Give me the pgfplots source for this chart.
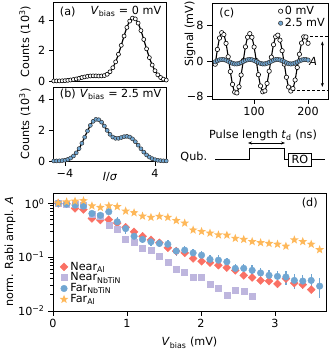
\documentclass[border=0pt]{standalone}
\usepackage{fontspec}
\setmainfont{DejaVu Sans}
\usepackage{pgfplots}
\usepackage{pgfplotstable}
\pgfplotsset{compat=1.18}
\usetikzlibrary{arrows.meta}

\definecolor{cblue}{RGB}{112,166,210}
\definecolor{cred}{RGB}{250,112,100}
\definecolor{cpurple}{RGB}{190,182,222}
\definecolor{corange}{RGB}{254,184,90}

\pgfdeclareplotmark{fstar}{%
 \pgfpathmoveto{\pgfpointpolar{90}{\pgfplotmarksize}}%
 \pgfpathlineto{\pgfpointpolar{126}{0.42*\pgfplotmarksize}}%
 \pgfpathlineto{\pgfpointpolar{162}{\pgfplotmarksize}}%
 \pgfpathlineto{\pgfpointpolar{198}{0.42*\pgfplotmarksize}}%
 \pgfpathlineto{\pgfpointpolar{234}{\pgfplotmarksize}}%
 \pgfpathlineto{\pgfpointpolar{270}{0.42*\pgfplotmarksize}}%
 \pgfpathlineto{\pgfpointpolar{306}{\pgfplotmarksize}}%
 \pgfpathlineto{\pgfpointpolar{342}{0.42*\pgfplotmarksize}}%
 \pgfpathlineto{\pgfpointpolar{18}{\pgfplotmarksize}}%
 \pgfpathlineto{\pgfpointpolar{54}{0.42*\pgfplotmarksize}}%
 \pgfpathclose\pgfusepathqfill}

\pgfplotsset{
  base/.style={scale only axis, anchor=south west, tick align=outside,
    xtick pos=bottom, ytick pos=left,
    major tick length=4.6pt, minor tick length=2.6pt,
    tick style={line width=0.8pt, black},
    axis line style={line width=0.8pt},
    /pgf/number format/assume math mode=true},
}

\pgfplotstableread{
x y
-5 0.002
-4.75 0.004
-4.5 0.007
-4.25 0.014
-4 0.025
-3.75 0.042
-3.5 0.066
-3.25 0.098
-3 0.136
-2.75 0.18
-2.5 0.23
-2.25 0.27
-2 0.31
-1.75 0.33
-1.5 0.34
-1.25 0.336
-1 0.327
-0.75 0.332
-0.5 0.359
-0.25 0.443
0 0.607
0.25 0.875
0.5 1.26
0.75 1.76
1 2.345
1.25 2.96
1.5 3.525
1.75 3.94
2 4.14
2.25 4.09
2.5 3.81
2.75 3.32
3 2.735
3.25 2.117
3.5 1.539
3.75 1.051
4 0.675
4.25 0.407
4.5 0.23
4.75 0.122
5 0.061
}\tabA

\pgfplotstableread{
x y
-5 0.002
-4.75 0.005
-4.5 0.012
-4.25 0.026
-4 0.054
-3.75 0.104
-3.5 0.192
-3.25 0.330
-3 0.534
-2.75 0.812
-2.5 1.160
-2.25 1.557
-2 1.963
-1.75 2.327
-1.5 2.594
-1.25 2.724
-1 2.700
-0.75 2.538
-0.5 2.284
-0.25 2.000
0 1.745
0.25 1.567
0.5 1.482
0.75 1.483
1 1.535
1.25 1.592
1.5 1.612
1.75 1.568
2 1.447
2.25 1.262
2.5 1.037
2.75 0.80
3 0.582
3.25 0.397
3.5 0.255
3.75 0.154
4 0.087
4.25 0.046
4.5 0.023
4.75 0.011
5 0.005
}\tabB

\pgfplotstableread{
t w b
28 -0.71 -0.17
32 2.60 0.07
36 5.16 0.26
40 6.35 0.35
44 5.92 0.32
48 3.96 0.18
52 0.96 -0.04
56 -2.37 -0.29
60 -5.23 -0.50
64 -6.96 -0.63
68 -7.14 -0.64
72 -5.76 -0.54
76 -3.13 -0.35
80 0.11 -0.10
84 3.19 0.13
88 5.34 0.29
92 6.13 0.35
96 5.32 0.29
100 3.15 0.13
104 0.11 -0.10
108 -3.05 -0.34
112 -5.58 -0.54
116 -6.88 -0.64
120 -6.68 -0.63
124 -5.01 -0.50
128 -2.27 -0.29
132 0.87 -0.04
136 3.66 0.17
140 5.45 0.32
144 5.80 0.35
148 4.67 0.26
152 2.31 0.07
156 -0.69 -0.17
160 -3.64 -0.40
164 -5.82 -0.58
168 -6.72 -0.65
172 -6.15 -0.60
176 -4.24 -0.45
180 -1.44 -0.23
184 1.53 0.02
188 4.03 0.22
192 5.42 0.33
196 5.40 0.33
200 3.98 0.22
}\tabC

\begin{document}
\fontsize{11.2}{13.4}\selectfont
\begin{tikzpicture}
\path[use as bounding box] (0pt,0pt) rectangle (330pt,350pt);

% ---------------- (a)
\begin{axis}[base, at={(53.75pt,269pt)}, width=112.5pt, height=79pt,
  xmin=-5, xmax=5, ymin=0, ymax=5.2, xtick=\empty, ytick={0,2,4},
  ylabel={Counts (10\textsuperscript{3})},
  ylabel style={at={(axis description cs:-0.256,0.5)}, anchor=center}]
\addplot[black, line width=1.2pt, smooth] table[x=x,y=y] {\tabA};
\addplot[only marks, mark=*, mark size=2pt, mark options={fill=white, draw=black, line width=0.6pt}] table[x=x,y=y] {\tabA};
\node[anchor=west] at (axis description cs:0.02,0.877) {(a)};
\node[anchor=east] at (axis description cs:0.99,0.877) {\textit{V}\textsubscript{bias} = 0 mV};
\end{axis}

% ---------------- (b)
\begin{axis}[base, at={(53.75pt,189pt)}, width=112.5pt, height=74pt,
  xmin=-5, xmax=5, ymin=0, ymax=4.84, xtick={-4,4}, xticklabels={−4,4}, ytick={0,2,4},
  xlabel={\textit{I}/\textit{σ}},
  xlabel style={at={(axis description cs:0.5,-0.22)}, anchor=center},
  ylabel={Counts (10\textsuperscript{3})},
  ylabel style={at={(axis description cs:-0.256,0.5)}, anchor=center}]
\addplot[black, line width=1.2pt, smooth] table[x=x,y=y] {\tabB};
\addplot[only marks, mark=*, mark size=2pt, mark options={fill=cblue, draw=black!80, line width=0.5pt}] table[x=x,y=y] {\tabB};
\node[anchor=west] at (axis description cs:0.02,0.90) {(b)};
\node[anchor=east] at (axis description cs:0.99,0.90) {\textit{V}\textsubscript{bias} = 2.5 mV};
\end{axis}

% ---------------- (c)
\begin{axis}[base, at={(212pt,251pt)}, width=116pt, height=96pt,
  xmin=22, xmax=237, ymin=-8.5, ymax=13, xtick={100,200}, ytick={-8,0,8}, yticklabels={−8,0,8},
  xlabel={Pulse length \textit{t}\textsubscript{d} (ns)},
  xlabel style={at={(axis description cs:0.44,-0.375)}, anchor=center},
  ylabel={Signal (mV)},
  ylabel style={at={(axis description cs:-0.19,0.68)}, anchor=center},
  legend style={at={(1.0,1.0)}, anchor=north east, draw=none, fill=none, inner sep=1pt, row sep=-2pt},
  legend cell align=left]
\addplot[black, line width=1.1pt, smooth, forget plot] table[x=t,y=w] {\tabC};
\addplot[black, line width=1.1pt, smooth, forget plot] table[x=t,y=b] {\tabC};
\addplot[only marks, mark=*, mark size=2.2pt, mark options={fill=white, draw=black, line width=0.6pt}] table[x=t,y=w] {\tabC};
\addlegendentry{0 mV}
\addplot[only marks, mark=*, mark size=2.2pt, mark options={fill=cblue, draw=black!80, line width=0.5pt}] table[x=t,y=b] {\tabC};
\addlegendentry{2.5 mV}
\draw[densely dashed, line width=0.8pt] (axis cs:194,5.6) -- (axis cs:237,5.6);
\draw[densely dashed, line width=0.8pt] (axis cs:170,-6.66) -- (axis cs:237,-6.66);
\draw[line width=0.8pt, {Stealth[length=4pt]}-{Stealth[length=4pt]}] (axis cs:226.5,4.4) -- (axis cs:226.5,-5.8);
\node[anchor=west, inner sep=0.5pt] at (axis cs:201,0) {\textit{A}};
\node[anchor=west] at (axis description cs:0.03,0.896) {(c)};
\end{axis}

% pulse scheme
\draw[line width=0.9pt] (215pt,190.5pt) -- (249.3pt,190.5pt) -- (249.3pt,201.2pt) -- (284pt,201.2pt) -- (284pt,190.5pt) -- (288pt,190.5pt);
\draw[line width=0.9pt] (288pt,184pt) rectangle (311.7pt,197pt);
\node at (299.85pt,190.5pt) {RO};
\draw[line width=0.9pt] (311.7pt,190.5pt) -- (325pt,190.5pt);
\draw[line width=0.8pt, {Stealth[length=4pt]}-{Stealth[length=4pt]}] (248pt,207pt) -- (285pt,207pt);
\node[anchor=east] at (211pt,192.7pt) {Qub.};

% ---------------- (d)
\begin{axis}[base, at={(53pt,39pt)}, width=273pt, height=118pt,
  xmin=0, xmax=3.69, ymode=log, ymin=0.01, ymax=1.56,
  xtick={0,1,2,3}, ytick={0.01,0.1,1},
  yticklabels={10\textsuperscript{−2},10\textsuperscript{−1},10\textsuperscript{0}},
  minor ytick={0.02,0.03,0.04,0.05,0.06,0.07,0.08,0.09,0.2,0.3,0.4,0.5,0.6,0.7,0.8,0.9},
  xlabel={\textit{V}\textsubscript{bias} (mV)},
  xlabel style={at={(axis description cs:0.5,-0.27)}, anchor=center},
  ylabel={norm. Rabi ampl. \textit{A}},
  ylabel style={at={(axis description cs:-0.157,0.5)}, anchor=center},
  legend style={at={(0.02,0.03)}, anchor=south west, draw=none, fill=none, inner sep=1pt, row sep=-3pt},
  legend cell align=left]
\addplot[only marks, mark=square*, mark size=2.8pt, color=cred, mark options={draw=none, fill=cred, rotate=45}] coordinates {
(0.070,1.00)(0.184,0.98)(0.298,0.81)(0.412,0.77)(0.526,0.525)(0.640,0.49)(0.754,0.50)(0.868,0.43)(0.982,0.36)(1.096,0.296)(1.210,0.245)(1.324,0.21)(1.438,0.185)(1.552,0.15)(1.666,0.13)(1.780,0.12)(1.894,0.095)(2.008,0.084)(2.122,0.079)(2.236,0.071)(2.350,0.064)(2.464,0.057)(2.578,0.046)(2.692,0.042)(2.806,0.037)(2.920,0.036)(3.034,0.032)(3.148,0.040)(3.262,0.033)(3.376,0.031)(3.490,0.025)};
\addlegendentry{Near\textsubscript{Al}}
\addplot[only marks, mark=square*, mark size=3pt, color=cpurple, mark options={draw=none, fill=cpurple}] coordinates {
(0.070,1.00)(0.184,0.98)(0.298,0.95)(0.412,0.92)(0.526,0.62)(0.640,0.58)(0.754,0.39)(0.868,0.33)(0.982,0.22)(1.096,0.19)(1.210,0.145)(1.324,0.135)(1.438,0.104)(1.552,0.082)(1.666,0.060)(1.780,0.052)(1.894,0.042)(2.008,0.043)(2.122,0.031)(2.236,0.027)(2.350,0.020)(2.464,0.0245)(2.578,0.023)(2.692,0.019)};
\addlegendentry{Near\textsubscript{NbTiN}}
\addplot[only marks, mark=*, mark size=3.3pt, color=cblue, mark options={draw=none, fill=cblue},
  error bars/.cd, y dir=both, y explicit relative, error mark=none,
  error bar style={line width=1.4pt, cblue}] coordinates {
(0.070,1.00) +- (0,0.02)
(0.184,0.97) +- (0,0.02)
(0.298,0.93) +- (0,0.03)
(0.412,0.89) +- (0,0.04)
(0.526,0.65) +- (0,0.08)
(0.640,0.60) +- (0,0.10)
(0.754,0.70) +- (0,0.10)
(0.868,0.455) +- (0,0.22)
(0.982,0.34) +- (0,0.22)
(1.096,0.245) +- (0,0.15)
(1.210,0.214) +- (0,0.15)
(1.324,0.193) +- (0,0.15)
(1.438,0.18) +- (0,0.15)
(1.552,0.174) +- (0,0.18)
(1.666,0.13) +- (0,0.18)
(1.780,0.135) +- (0,0.2)
(1.894,0.12) +- (0,0.2)
(2.008,0.109) +- (0,0.2)
(2.122,0.091) +- (0,0.2)
(2.236,0.088) +- (0,0.25)
(2.350,0.082) +- (0,0.2)
(2.464,0.062) +- (0,0.22)
(2.578,0.062) +- (0,0.22)
(2.692,0.057) +- (0,0.25)
(2.806,0.051) +- (0,0.25)
(2.920,0.046) +- (0,0.25)
(3.034,0.044) +- (0,0.28)
(3.148,0.043) +- (0,0.28)
(3.262,0.037) +- (0,0.3)
(3.376,0.036) +- (0,0.3)
(3.490,0.037) +- (0,0.3)
(3.604,0.029) +- (0,0.4)};
\addlegendentry{Far\textsubscript{NbTiN}}
\addplot[only marks, mark=fstar, mark size=4.6pt, color=corange, mark options={draw=none, fill=corange}] coordinates {
(0.070,1.02)(0.184,1.07)(0.298,1.10)(0.412,1.12)(0.526,0.90)(0.640,0.84)(0.754,0.90)(0.868,0.87)(0.982,0.72)(1.096,0.67)(1.210,0.58)(1.324,0.55)(1.438,0.575)(1.552,0.55)(1.666,0.48)(1.780,0.43)(1.894,0.32)(2.008,0.30)(2.122,0.28)(2.236,0.26)(2.350,0.257)(2.464,0.224)(2.578,0.214)(2.692,0.195)(2.806,0.186)(2.920,0.18)(3.034,0.174)(3.148,0.16)(3.262,0.21)(3.376,0.195)(3.490,0.174)(3.604,0.138)};
\addlegendentry{Far\textsubscript{Al}}
\node[anchor=east] at (axis description cs:0.984,0.918) {(d)};
\end{axis}
\end{tikzpicture}
\end{document}
